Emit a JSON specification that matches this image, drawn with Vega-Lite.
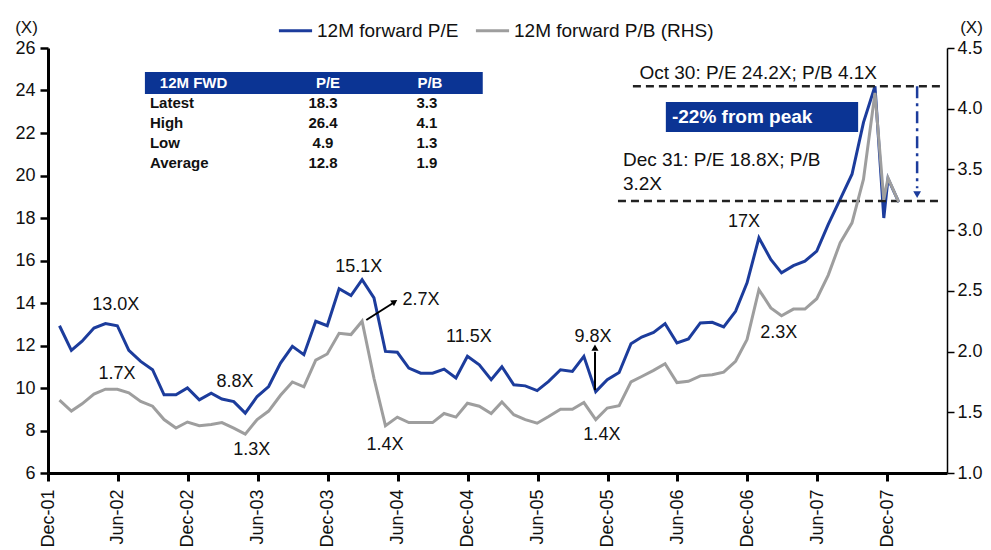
{
  "$schema": "https://vega.github.io/schema/vega-lite/v6.json",
  "width": 899,
  "height": 425,
  "autosize": {"type": "none"},
  "padding": {"left": 48, "top": 48, "right": 44, "bottom": 77},
  "background": "white",
  "config": {
    "view": {"stroke": null},
    "font": "Liberation Sans",
    "axis": {"labelFont": "Liberation Sans", "titleFont": "Liberation Sans", "grid": false},
    "legend": {"labelFont": "Liberation Sans", "labelLimit": 0},
    "text": {"font": "Liberation Sans"}
  },
  "datasets": {
    "pe": [
      {"date": "2001-12-31", "v": 12.93}, {"date": "2002-01-31", "v": 11.77}, {"date": "2002-02-28", "v": 12.2},
      {"date": "2002-03-31", "v": 12.82}, {"date": "2002-04-30", "v": 13.03}, {"date": "2002-05-31", "v": 12.93},
      {"date": "2002-06-30", "v": 11.77}, {"date": "2002-07-31", "v": 11.25}, {"date": "2002-08-31", "v": 10.86},
      {"date": "2002-09-30", "v": 9.68}, {"date": "2002-10-31", "v": 9.68}, {"date": "2002-11-30", "v": 10.0},
      {"date": "2002-12-31", "v": 9.44}, {"date": "2003-01-31", "v": 9.76}, {"date": "2003-02-28", "v": 9.48},
      {"date": "2003-03-31", "v": 9.36}, {"date": "2003-04-30", "v": 8.82}, {"date": "2003-05-31", "v": 9.6},
      {"date": "2003-06-30", "v": 10.07}, {"date": "2003-07-31", "v": 11.17}, {"date": "2003-08-31", "v": 11.96},
      {"date": "2003-09-30", "v": 11.57}, {"date": "2003-10-31", "v": 13.14}, {"date": "2003-11-30", "v": 12.93},
      {"date": "2003-12-31", "v": 14.67}, {"date": "2004-01-31", "v": 14.35}, {"date": "2004-02-29", "v": 15.1},
      {"date": "2004-03-31", "v": 14.24}, {"date": "2004-04-30", "v": 11.72}, {"date": "2004-05-31", "v": 11.68},
      {"date": "2004-06-30", "v": 10.94}, {"date": "2004-07-31", "v": 10.7}, {"date": "2004-08-31", "v": 10.7},
      {"date": "2004-09-30", "v": 10.89}, {"date": "2004-10-31", "v": 10.47}, {"date": "2004-11-30", "v": 11.49},
      {"date": "2004-12-31", "v": 11.09}, {"date": "2005-01-31", "v": 10.39}, {"date": "2005-02-28", "v": 11.0},
      {"date": "2005-03-31", "v": 10.15}, {"date": "2005-04-30", "v": 10.1}, {"date": "2005-05-31", "v": 9.88},
      {"date": "2005-06-30", "v": 10.31}, {"date": "2005-07-31", "v": 10.86}, {"date": "2005-08-31", "v": 10.78},
      {"date": "2005-09-30", "v": 11.49}, {"date": "2005-10-31", "v": 9.83}, {"date": "2005-11-30", "v": 10.39},
      {"date": "2005-12-31", "v": 10.73}, {"date": "2006-01-31", "v": 12.08}, {"date": "2006-02-28", "v": 12.4},
      {"date": "2006-03-31", "v": 12.62}, {"date": "2006-04-30", "v": 13.03}, {"date": "2006-05-31", "v": 12.12},
      {"date": "2006-06-30", "v": 12.31}, {"date": "2006-07-31", "v": 13.06}, {"date": "2006-08-31", "v": 13.09},
      {"date": "2006-09-30", "v": 12.87}, {"date": "2006-10-31", "v": 13.61}, {"date": "2006-11-30", "v": 14.95},
      {"date": "2006-12-31", "v": 17.07}, {"date": "2007-01-31", "v": 16.05}, {"date": "2007-02-28", "v": 15.42},
      {"date": "2007-03-31", "v": 15.76}, {"date": "2007-04-30", "v": 15.97}, {"date": "2007-05-31", "v": 16.44},
      {"date": "2007-06-30", "v": 17.7}, {"date": "2007-07-31", "v": 18.88}, {"date": "2007-08-31", "v": 20.06},
      {"date": "2007-09-30", "v": 22.5}, {"date": "2007-10-30", "v": 24.2}, {"date": "2007-11-22", "v": 18.0},
      {"date": "2007-12-03", "v": 19.85}, {"date": "2007-12-31", "v": 18.75}
    ],
    "pb": [
      {"date": "2001-12-31", "v": 1.6}, {"date": "2002-01-31", "v": 1.51}, {"date": "2002-02-28", "v": 1.57},
      {"date": "2002-03-31", "v": 1.65}, {"date": "2002-04-30", "v": 1.69}, {"date": "2002-05-31", "v": 1.69},
      {"date": "2002-06-30", "v": 1.66}, {"date": "2002-07-31", "v": 1.59}, {"date": "2002-08-31", "v": 1.55},
      {"date": "2002-09-30", "v": 1.44}, {"date": "2002-10-31", "v": 1.37}, {"date": "2002-11-30", "v": 1.42},
      {"date": "2002-12-31", "v": 1.39}, {"date": "2003-01-31", "v": 1.4}, {"date": "2003-02-28", "v": 1.415},
      {"date": "2003-03-31", "v": 1.37}, {"date": "2003-04-30", "v": 1.32}, {"date": "2003-05-31", "v": 1.44},
      {"date": "2003-06-30", "v": 1.51}, {"date": "2003-07-31", "v": 1.64}, {"date": "2003-08-31", "v": 1.75},
      {"date": "2003-09-30", "v": 1.71}, {"date": "2003-10-31", "v": 1.93}, {"date": "2003-11-30", "v": 1.98},
      {"date": "2003-12-31", "v": 2.15}, {"date": "2004-01-31", "v": 2.14}, {"date": "2004-02-29", "v": 2.25},
      {"date": "2004-03-31", "v": 1.78}, {"date": "2004-04-30", "v": 1.39}, {"date": "2004-05-31", "v": 1.46},
      {"date": "2004-06-30", "v": 1.415}, {"date": "2004-07-31", "v": 1.415}, {"date": "2004-08-31", "v": 1.415},
      {"date": "2004-09-30", "v": 1.49}, {"date": "2004-10-31", "v": 1.46}, {"date": "2004-11-30", "v": 1.575},
      {"date": "2004-12-31", "v": 1.55}, {"date": "2005-01-31", "v": 1.49}, {"date": "2005-02-28", "v": 1.585},
      {"date": "2005-03-31", "v": 1.48}, {"date": "2005-04-30", "v": 1.44}, {"date": "2005-05-31", "v": 1.41},
      {"date": "2005-06-30", "v": 1.465}, {"date": "2005-07-31", "v": 1.525}, {"date": "2005-08-31", "v": 1.525},
      {"date": "2005-09-30", "v": 1.58}, {"date": "2005-10-31", "v": 1.44}, {"date": "2005-11-30", "v": 1.535},
      {"date": "2005-12-31", "v": 1.555}, {"date": "2006-01-31", "v": 1.75}, {"date": "2006-02-28", "v": 1.795},
      {"date": "2006-03-31", "v": 1.845}, {"date": "2006-04-30", "v": 1.9}, {"date": "2006-05-31", "v": 1.745},
      {"date": "2006-06-30", "v": 1.755}, {"date": "2006-07-31", "v": 1.8}, {"date": "2006-08-31", "v": 1.81},
      {"date": "2006-09-30", "v": 1.83}, {"date": "2006-10-31", "v": 1.92}, {"date": "2006-11-30", "v": 2.1},
      {"date": "2006-12-31", "v": 2.51}, {"date": "2007-01-31", "v": 2.36}, {"date": "2007-02-28", "v": 2.295},
      {"date": "2007-03-31", "v": 2.35}, {"date": "2007-04-30", "v": 2.35}, {"date": "2007-05-31", "v": 2.435},
      {"date": "2007-06-30", "v": 2.63}, {"date": "2007-07-31", "v": 2.895}, {"date": "2007-08-31", "v": 3.06},
      {"date": "2007-09-30", "v": 3.42}, {"date": "2007-10-30", "v": 4.13}, {"date": "2007-11-22", "v": 3.25},
      {"date": "2007-12-03", "v": 3.43}, {"date": "2007-12-31", "v": 3.23}
    ],
    "ann": [
      {"date": "2002-05-27", "v": 13.9, "text": "13.0X"},
      {"date": "2002-05-30", "v": 10.66, "text": "1.7X"},
      {"date": "2003-04-03", "v": 10.28, "text": "8.8X"},
      {"date": "2003-05-17", "v": 7.08, "text": "1.3X"},
      {"date": "2004-02-20", "v": 15.69, "text": "15.1X"},
      {"date": "2004-08-01", "v": 14.14, "text": "2.7X"},
      {"date": "2004-04-29", "v": 7.32, "text": "1.4X"},
      {"date": "2004-12-04", "v": 12.4, "text": "11.5X"},
      {"date": "2005-10-24", "v": 12.4, "text": "9.8X"},
      {"date": "2005-11-16", "v": 7.79, "text": "1.4X"},
      {"date": "2006-11-22", "v": 17.81, "text": "17X"},
      {"date": "2007-02-21", "v": 12.59, "text": "2.3X"}
    ],
    "annL": [
      {"date": "2006-02-22", "v": 24.82, "text": "Oct 30: P/E 24.2X; P/B 4.1X"},
      {"date": "2006-01-10", "v": 20.73, "text": "Dec 31: P/E 18.8X; P/B"},
      {"date": "2006-01-10", "v": 19.58, "text": "3.2X"}
    ],
    "boxes": [
      {"date": "2002-08-11", "date2": "2005-01-09", "v": 24.87, "v2": 23.84},
      {"date": "2006-05-02", "date2": "2007-09-16", "v": 23.46, "v2": 22.05}
    ],
    "whiteL": [
      {"date": "2002-09-19", "v": 24.35, "text": "12M FWD", "size": 15},
      {"date": "2006-05-18", "v": 22.75, "text": "-22% from peak", "size": 19}
    ],
    "whiteC": [
      {"date": "2003-12-02", "v": 24.35, "text": "P/E"},
      {"date": "2004-08-24", "v": 24.35, "text": "P/B"}
    ],
    "tblL": [
      {"date": "2002-08-24", "v": 23.41, "text": "Latest"},
      {"date": "2002-08-24", "v": 22.47, "text": "High"},
      {"date": "2002-08-24", "v": 21.53, "text": "Low"},
      {"date": "2002-08-24", "v": 20.59, "text": "Average"}
    ],
    "tblV": [
      {"date": "2003-11-19", "v": 23.41, "text": "18.3"},
      {"date": "2003-11-19", "v": 22.47, "text": "26.4"},
      {"date": "2003-11-19", "v": 21.53, "text": "4.9"},
      {"date": "2003-11-19", "v": 20.59, "text": "12.8"},
      {"date": "2004-08-16", "v": 23.41, "text": "3.3"},
      {"date": "2004-08-16", "v": 22.47, "text": "4.1"},
      {"date": "2004-08-16", "v": 21.53, "text": "1.3"},
      {"date": "2004-08-16", "v": 20.59, "text": "1.9"}
    ],
    "dash": [
      {"date": "2006-02-05", "date2": "2008-04-18", "v": 24.2},
      {"date": "2005-12-28", "date2": "2008-04-18", "v": 18.8}
    ],
    "arrows": [
      {"date": "2004-03-11", "v": 13.2, "date2": "2004-05-20", "v2": 14.0},
      {"date": "2005-10-29", "v": 9.9, "date2": "2005-10-29", "v2": 11.7}
    ],
    "heads": [
      {"date": "2004-05-24", "v": 14.06, "angle": 57},
      {"date": "2005-10-29", "v": 11.9, "angle": 0}
    ],
    "vrule": [
      {"date": "2008-02-17", "v": 24.2, "date2": "2008-02-17", "v2": 19.4}
    ],
    "vhead": [
      {"date": "2008-02-17", "v": 19.1, "angle": 180}
    ]
  },
  "encoding": {
    "x": {
      "field": "date",
      "type": "temporal",
      "title": null,
      "scale": {
        "type": "utc",
        "domain": [
          {"year": 2001, "month": 12, "date": 1, "utc": true},
          {"year": 2008, "month": 5, "date": 5, "utc": true}
        ]
      },
      "axis": {
        "values": [
          {"year": 2001, "month": 12, "date": 1, "utc": true},
          {"year": 2002, "month": 6, "date": 1, "utc": true},
          {"year": 2002, "month": 12, "date": 1, "utc": true},
          {"year": 2003, "month": 6, "date": 1, "utc": true},
          {"year": 2003, "month": 12, "date": 1, "utc": true},
          {"year": 2004, "month": 6, "date": 1, "utc": true},
          {"year": 2004, "month": 12, "date": 1, "utc": true},
          {"year": 2005, "month": 6, "date": 1, "utc": true},
          {"year": 2005, "month": 12, "date": 1, "utc": true},
          {"year": 2006, "month": 6, "date": 1, "utc": true},
          {"year": 2006, "month": 12, "date": 1, "utc": true},
          {"year": 2007, "month": 6, "date": 1, "utc": true},
          {"year": 2007, "month": 12, "date": 1, "utc": true}
        ],
        "format": "%b-%y",
        "labelAngle": 270,
        "labelFontSize": 18,
        "labelPadding": 8,
        "labelColor": "#111",
        "labelOverlap": false,
        "labelFlush": false,
        "domainColor": "#000",
        "domainWidth": 3,
        "tickColor": "#000",
        "tickWidth": 3,
        "tickSize": 8,
        "title": null
      }
    }
  },
  "layer": [
    {
      "encoding": {
        "y": {
          "field": "v",
          "type": "quantitative",
          "scale": {"domain": [6, 26], "nice": false, "zero": false},
          "axis": {
            "orient": "left",
            "values": [6, 8, 10, 12, 14, 16, 18, 20, 22, 24, 26],
            "title": "(X)",
            "titleAngle": 0,
            "titleX": -22,
            "titleY": -21,
            "titleAlign": "center",
            "titleBaseline": "middle",
            "titleFontSize": 17,
            "titleFontWeight": "normal",
            "titleColor": "#111",
            "labelFontSize": 18,
            "labelPadding": 5,
            "labelColor": "#111",
            "domainColor": "#000",
            "domainWidth": 3,
            "tickColor": "#000",
            "tickWidth": 2.5,
            "tickSize": 8
          }
        }
      },
      "layer": [
        {
          "data": {"name": "boxes"},
          "mark": {"type": "rect", "color": "#0b3494"},
          "encoding": {"x2": {"field": "date2"}, "y2": {"field": "v2"}}
        },
        {
          "data": {"name": "pe"},
          "mark": {"type": "line", "strokeWidth": 3},
          "encoding": {
            "color": {
              "datum": "12M forward P/E",
              "type": "nominal",
              "scale": {"domain": ["12M forward P/E", "12M forward P/B (RHS)"], "range": ["#1c3c9c", "#9e9e9e"]},
              "legend": {
                "orient": "none", "legendX": 229, "legendY": -36, "direction": "horizontal", "title": null,
                "symbolType": "stroke", "symbolStrokeWidth": 3, "symbolSize": 1100, "labelFontSize": 19,
                "columnPadding": 10, "labelOffset": 3, "labelColor": "#111", "labelLimit": 0
              }
            }
          }
        },
        {
          "data": {"name": "dash"},
          "mark": {"type": "rule", "color": "#222", "strokeWidth": 2.5, "strokeDash": [8, 5]},
          "encoding": {"x2": {"field": "date2"}}
        },
        {
          "data": {"name": "vrule"},
          "mark": {"type": "rule", "color": "#1c3c9c", "strokeWidth": 2.5, "strokeDash": [12, 5, 3, 5]},
          "encoding": {"x2": {"field": "date2"}, "y2": {"field": "v2"}}
        },
        {
          "data": {"name": "vhead"},
          "mark": {"type": "point", "shape": "triangle-up", "filled": true, "color": "#1c3c9c", "size": 60, "opacity": 1},
          "encoding": {"angle": {"field": "angle", "type": "quantitative", "scale": null}}
        },
        {
          "data": {"name": "arrows"},
          "mark": {"type": "rule", "color": "#000", "strokeWidth": 2},
          "encoding": {"x2": {"field": "date2"}, "y2": {"field": "v2"}}
        },
        {
          "data": {"name": "heads"},
          "mark": {"type": "point", "shape": "triangle-up", "filled": true, "color": "#000", "size": 50, "opacity": 1},
          "encoding": {"angle": {"field": "angle", "type": "quantitative", "scale": null}}
        },
        {
          "data": {"name": "ann"},
          "mark": {"type": "text", "fontSize": 18, "color": "#111", "align": "center", "baseline": "middle"},
          "encoding": {"text": {"field": "text", "type": "nominal"}}
        },
        {
          "data": {"name": "annL"},
          "mark": {"type": "text", "fontSize": 19, "color": "#111", "align": "left", "baseline": "middle"},
          "encoding": {"text": {"field": "text", "type": "nominal"}}
        },
        {
          "data": {"name": "whiteL"},
          "mark": {"type": "text", "color": "#ffffff", "align": "left", "baseline": "middle", "fontWeight": "bold"},
          "encoding": {
            "text": {"field": "text", "type": "nominal"},
            "size": {"field": "size", "type": "quantitative", "scale": null}
          }
        },
        {
          "data": {"name": "whiteC"},
          "mark": {"type": "text", "fontSize": 15, "color": "#ffffff", "align": "center", "baseline": "middle", "fontWeight": "bold"},
          "encoding": {"text": {"field": "text", "type": "nominal"}}
        },
        {
          "data": {"name": "tblL"},
          "mark": {"type": "text", "fontSize": 15, "color": "#111", "align": "left", "baseline": "middle", "fontWeight": "bold"},
          "encoding": {"text": {"field": "text", "type": "nominal"}}
        },
        {
          "data": {"name": "tblV"},
          "mark": {"type": "text", "fontSize": 15, "color": "#111", "align": "center", "baseline": "middle", "fontWeight": "bold"},
          "encoding": {"text": {"field": "text", "type": "nominal"}}
        }
      ]
    },
    {
      "data": {"name": "pb"},
      "mark": {"type": "line", "strokeWidth": 3},
      "encoding": {
        "y": {
          "field": "v",
          "type": "quantitative",
          "scale": {"domain": [1, 4.5], "nice": false, "zero": false},
          "axis": {
            "orient": "right",
            "values": [1, 1.5, 2, 2.5, 3, 3.5, 4, 4.5],
            "format": ".1f",
            "title": "(X)",
            "titleAngle": 0,
            "titleX": 24,
            "titleY": -21,
            "titleAlign": "center",
            "titleBaseline": "middle",
            "titleFontSize": 17,
            "titleFontWeight": "normal",
            "titleColor": "#111",
            "labelFontSize": 18,
            "labelPadding": 3,
            "labelColor": "#111",
            "domainColor": "#000",
            "domainWidth": 1.5,
            "tickColor": "#000",
            "tickWidth": 1.5,
            "tickSize": 7
          }
        },
        "color": {
          "datum": "12M forward P/B (RHS)",
          "type": "nominal",
          "scale": {"domain": ["12M forward P/E", "12M forward P/B (RHS)"], "range": ["#1c3c9c", "#9e9e9e"]},
          "legend": {
            "orient": "none", "legendX": 229, "legendY": -36, "direction": "horizontal", "title": null,
            "symbolType": "stroke", "symbolStrokeWidth": 3, "symbolSize": 1100, "labelFontSize": 19,
            "columnPadding": 10, "labelOffset": 3, "labelColor": "#111", "labelLimit": 0
          }
        }
      }
    }
  ],
  "resolve": {"scale": {"y": "independent"}}
}
